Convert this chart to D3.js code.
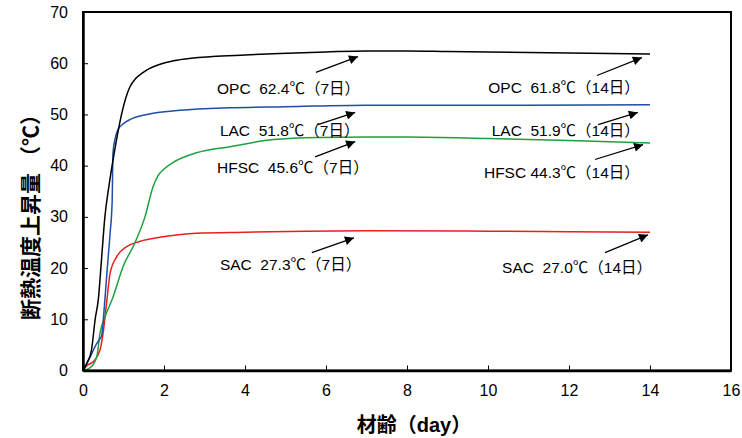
<!DOCTYPE html>
<html><head><meta charset="utf-8">
<script src="https://cdn.jsdelivr.net/npm/d3@7"></script>
<style>
body{margin:0;background:#fff;}
text{font-family:"Liberation Sans",Arial,"Noto Sans CJK JP",sans-serif;white-space:pre;}
</style></head><body>
<svg id="chart" width="742" height="438"></svg>
<script>
// ---- data ----
const xTicks = [0,2,4,6,8,10,12,14,16];
const yTicks = [0,10,20,30,40,50,60,70];

const opcDays = [0,0.1,0.21,0.3,0.38,0.46,0.54,0.64,0.74,0.85,0.96,1.06,1.16,1.3,1.45,1.58,1.8,1.98,2.4,3.2,4.0,4.86,6,7,8,9,10,11,12,13,14];
const opcTemp = [0,1.5,4,10,14,22,30,36,41,46,50.3,53.3,55.4,57,58,58.7,59.5,60,60.7,61.3,61.6,61.9,62.2,62.4,62.4,62.3,62.2,62.1,62.0,61.9,61.8];

const lacDays = [0,0.17,0.34,0.42,0.46,0.54,0.6,0.67,0.72,0.74,0.8,0.86,1.0,1.16,1.58,2.4,3.6,5,7,9,11,14];
const lacTemp = [0,2.5,5.3,6.2,6.8,13.8,20,26.9,33,42.5,45.5,47,48.2,49,50,50.8,51.3,51.5,51.8,51.8,51.8,51.9];

const hfscDays = [0,0.17,0.34,0.42,0.54,0.74,0.99,1.28,1.53,1.73,1.85,1.98,2.22,2.8,3.63,4.7,5.8,7,8,10,12,14];
const hfscTemp = [0,0.5,2.7,7.3,10.4,14.3,20.3,24.9,30,35.9,38,39.2,40.6,42.5,43.7,45.1,45.5,45.6,45.6,45.3,44.9,44.4];

const sacDays = [0,0.1,0.25,0.42,0.5,0.58,0.67,0.83,1.08,1.4,1.98,2.8,4,5.5,7,10,12,14];
const sacTemp = [0,1,1.7,4,7.5,13,19,22.2,24.2,25.2,26.1,26.8,27.0,27.2,27.3,27.2,27.1,27.0];

const seriesNames  = ["OPC","LAC","HFSC","SAC"];
const seriesColors = ["#000000","#1f4ea6","#1fa040","#e8201c"];

// annotation labels: text, anchor day, anchor value, alignment
const labelTexts  = ["OPC  62.4℃（7日）","OPC  61.8℃（14日）","LAC  51.8℃（7日）","LAC  51.9℃（14日）",
                     "HFSC  45.6℃（7日）","HFSC 44.3℃（14日）","SAC  27.3℃（7日）","SAC  27.0℃（14日）"];
const labelDays   = [3.31,13.75,3.38,13.75,3.31,13.75,3.38,14.05];
const labelVals   = [53.9,54.1,45.85,45.85,38.6,37.6,19.65,19.1];
const labelAnchor = ["start","end","start","end","start","end","start","end"];

// annotation arrows (from -> to) in data units
const arrowX1 = [5.75,12.69,5.80,12.72,5.73,12.64,5.65,12.89];
const arrowY1 = [58.2,57.6,48.0,48.0,41.7,41.2,23.0,23.0];
const arrowX2 = [6.79,13.80,6.72,13.70,6.72,13.83,6.69,13.95];
const arrowY2 = [61.3,61.1,50.4,50.4,44.7,44.1,25.9,26.5];

// ---- chart ----
const svg = d3.select("#chart");
const m = {left:83, right:11, top:12, bottom:67.5};
const W = 742, H = 438;
const x = d3.scaleLinear().domain([0,16]).range([m.left, W-m.right]);
const y = d3.scaleLinear().domain([0,70]).range([H-m.bottom, m.top]);

const defs = svg.append("defs");
defs.append("marker").attr("id","arr").attr("viewBox","0 0 10 10")
  .attr("refX",10).attr("refY",5).attr("markerWidth",13).attr("markerHeight",9)
  .attr("markerUnits","userSpaceOnUse").attr("orient","auto")
  .append("path").attr("d","M0,0 L10,5 L0,10 Z").attr("fill","#000");

const line = d3.line().x(d=>x(d[0])).y(d=>y(d[1])).curve(d3.curveMonotoneX);
const allDays = [opcDays,lacDays,hfscDays,sacDays];
const allTemp = [opcTemp,lacTemp,hfscTemp,sacTemp];
// draw order: SAC, HFSC, LAC, OPC
[3,2,1,0].forEach(i=>{
  const pts = allDays[i].map((d,j)=>[d, allTemp[i][j]]);
  svg.append("path").datum(pts).attr("d",line)
    .attr("fill","none").attr("stroke",seriesColors[i]).attr("stroke-width",1.5);
});

// frame
svg.append("rect").attr("x",x(0)).attr("y",y(70)).attr("width",x(16)-x(0)).attr("height",y(0)-y(70))
  .attr("fill","none").attr("stroke","#000").attr("stroke-width",2);

// axes
const xAxis = d3.axisBottom(x).tickValues(xTicks).tickSizeInner(-5).tickSizeOuter(0).tickPadding(14);
const gx = svg.append("g").attr("transform",`translate(0,${y(0)})`).call(xAxis);
gx.select(".domain").attr("stroke-width",2.5);
gx.selectAll("text").attr("font-size",16).attr("fill","#000")
  .style("font-family",'"Liberation Sans",Arial,sans-serif');

const yAxis = d3.axisLeft(y).tickValues(yTicks).tickSizeInner(-5).tickSizeOuter(0).tickPadding(15);
const gy = svg.append("g").attr("transform",`translate(${x(0)},0)`).call(yAxis);
gy.select(".domain").attr("stroke-width",2.5);
gy.selectAll("text").attr("font-size",16).attr("fill","#000")
  .style("font-family",'"Liberation Sans",Arial,sans-serif');

// arrows
arrowX1.forEach((v,i)=>{
  svg.append("line").attr("x1",x(v)).attr("y1",y(arrowY1[i]))
    .attr("x2",x(arrowX2[i])).attr("y2",y(arrowY2[i]))
    .attr("stroke","#000").attr("stroke-width",1.3).attr("marker-end","url(#arr)");
});

// labels
labelTexts.forEach((t,i)=>{
  svg.append("text").attr("x",x(labelDays[i])).attr("y",y(labelVals[i]))
    .attr("text-anchor",labelAnchor[i]).attr("font-size",15.5).attr("fill","#000").text(t);
});

// axis titles
svg.append("text").attr("x",414).attr("y",432).attr("text-anchor","middle")
  .attr("font-size",20).attr("font-weight","bold").attr("fill","#000").text("材齢（day）");
svg.append("text").attr("transform","translate(38,212) rotate(-90)").attr("text-anchor","middle")
  .attr("font-size",21).attr("font-weight","bold").attr("fill","#000").text("断熱温度上昇量 （℃）");
</script>
</body></html>
